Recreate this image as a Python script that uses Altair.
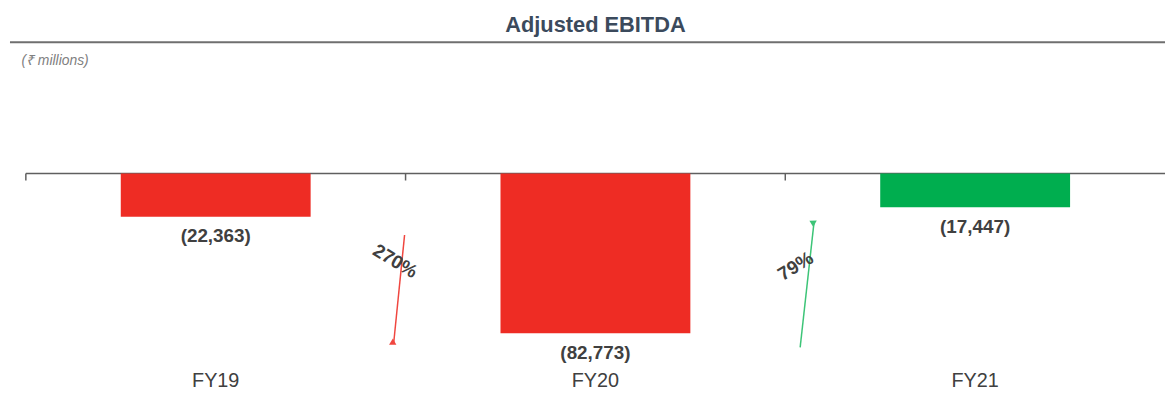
import altair as alt
import pandas as pd

# ---- data ----
years = ["FY19", "FY20", "FY21"]
ebitda = [-22363, -82773, -17447]
value_labels = ["(22,363)", "(82,773)", "(17,447)"]
trend = ["loss", "loss", "improved"]

# growth arrows between consecutive years (y in ₹ millions)
arrow_from = ["FY19", "FY20"]
arrow_to = ["FY20", "FY21"]
arrow_y_start = [-31850, -90100]
arrow_y_end = [-87900, -25170]
arrow_text = ["270%", "79%"]

bars = pd.DataFrame({"year": years, "ebitda": ebitda, "label": value_labels,
                     "trend": trend, "zero": [0, 0, 0]})
arrows = pd.DataFrame({"src": arrow_from, "dst": arrow_to, "y0": arrow_y_start,
                       "y1": arrow_y_end, "text": arrow_text})
single = pd.DataFrame({"zero": [0]})

FONT = "Liberation Sans, Arial, sans-serif"
W, H = 1149, 292
STEP = W / 3
HALF_BAR = STEP / 4
x_scale = alt.Scale(domain=years, paddingInner=0.5, paddingOuter=0.25)
y_scale = alt.Scale(domain=[-100000, 50000], nice=False)

bar_layer = alt.Chart(bars).mark_bar().encode(
    x=alt.X("year:N", scale=x_scale,
            axis=alt.Axis(title=None, domain=False, ticks=False,
                          labelAngle=0, labelFontSize=20, labelColor="#404040",
                          labelFont=FONT, labelPadding=14, labelBaseline="middle")),
    y=alt.Y("ebitda:Q", scale=y_scale,
            axis=alt.Axis(title="(₹ millions)", labels=False, ticks=False, domain=False,
                          grid=False, titleAngle=0, titleAlign="left",
                          titleBaseline="middle", titleX=-5, titleY=-17,
                          titleFontStyle="italic", titleFontWeight="normal",
                          titleFontSize=14, titleColor="#808080", titleFont=FONT)),
    color=alt.Color("trend:N", scale=alt.Scale(domain=["loss", "improved"],
                                               range=["#EE2C24", "#00AE4F"]), legend=None),
)

value_layer = alt.Chart(bars).mark_text(
    fontSize=19, fontWeight="bold", color="#404040", baseline="middle", dy=20, font=FONT
).encode(x="year:N", y="ebitda:Q", text="label:N")

zero_line = alt.Chart(single).mark_rule(color="#5f5f5f", strokeWidth=1.5).encode(
    y="zero:Q")

# small downward ticks at the category boundaries
ticks = alt.Chart(bars).mark_point(shape="stroke", angle=90, size=49, filled=False,
                                   strokeWidth=1.5, color="#5f5f5f", opacity=1,
                                   xOffset=-STEP / 2, yOffset=3.5).encode(
    x="year:N", y="zero:Q")

title_line = alt.Chart(single).mark_rule(color="#6f6f6f", strokeWidth=2).encode(
    x=alt.value(-16), x2=alt.value(W), y=alt.value(-35))

arrow_styles = [
    # color, start px from source centre, end px from target centre, angle, dx, dy
    ("#F0463F", HALF_BAR * 2 - 1, -HALF_BAR * 2 - 12, 31.1, -18, -22),
    ("#3CC477", HALF_BAR * 2 + 15, -HALF_BAR * 2 + 29, 328.4, 0, -22),
]
arrow_layers = []
for i, (col, off0, off1, ang, ddx, ddy) in enumerate(arrow_styles):
    d = alt.Chart(arrows.iloc[[i]])
    arrow_layers.append(d.mark_rule(color=col, strokeWidth=1.5,
                                    xOffset=off0, x2Offset=off1).encode(
        x="src:N", x2="dst", y="y0:Q", y2="y1"))
    arrow_layers.append(d.mark_point(shape="triangle-right", filled=True, size=55,
                                     angle=ang, color=col, opacity=1,
                                     xOffset=off1).encode(
        x="dst:N", y="y1:Q"))
    mid = (off0 + STEP + off1) / 2
    arrow_layers.append(d.transform_calculate(ym="(datum.y0 + datum.y1) / 2").mark_text(
        angle=ang, dx=ddx, dy=ddy, xOffset=mid, fontSize=19, fontWeight="bold",
        color="#404040", baseline="middle", font=FONT).encode(
        x="src:N", y="ym:Q", text="text:N"))

chart = alt.layer(
    zero_line, bar_layer, ticks, value_layer, *arrow_layers, title_line
).properties(
    width=W, height=H,
    padding={"left": 1, "top": 5, "right": 0, "bottom": 0},
    title=alt.Title("Adjusted EBITDA", fontSize=22, fontWeight="bold", color="#3B4A5C",
                    font=FONT, anchor="middle", frame="group", offset=4),
).configure_view(stroke=None)

chart.save("out.html", embed_options={"renderer": "svg", "actions": False})
